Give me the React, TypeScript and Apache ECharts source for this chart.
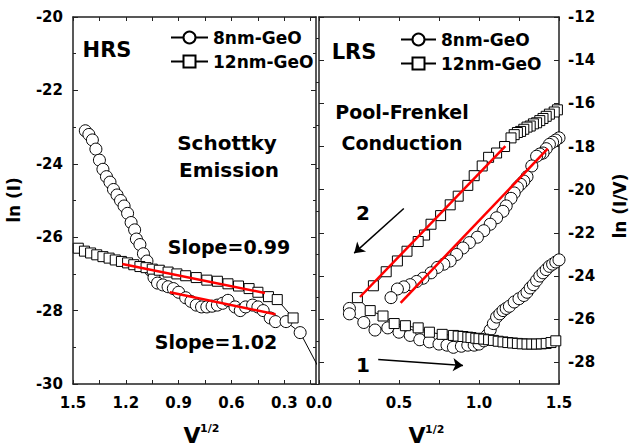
import React, { useEffect, useRef } from "react";
import * as echarts from "echarts";

const FONT = '"DejaVu Sans", sans-serif';

// HRS panel (x axis reversed)
const hrs8nm: [number, number][] = [
  [1.43, -23.1], [1.41, -23.2], [1.39, -23.35], [1.37, -23.6], [1.35, -23.9], [1.33, -24.15],
  [1.31, -24.35], [1.29, -24.5], [1.27, -24.7], [1.25, -24.85], [1.23, -25.0], [1.21, -25.15],
  [1.19, -25.35], [1.17, -25.6], [1.15, -25.8], [1.14, -26.05], [1.12, -26.2], [1.1, -26.45],
  [1.08, -26.65], [1.06, -26.9], [1.04, -27.1], [1.02, -27.25], [0.99, -27.3], [0.96, -27.35],
  [0.93, -27.4], [0.9, -27.5], [0.86, -27.65], [0.83, -27.75], [0.8, -27.85], [0.77, -27.9],
  [0.74, -27.9], [0.71, -27.88], [0.68, -27.85], [0.65, -27.8], [0.62, -27.72], [0.58, -27.9],
  [0.55, -28.0], [0.52, -27.9], [0.48, -27.85], [0.45, -27.9], [0.42, -28.0], [0.38, -28.2],
  [0.35, -28.3], [0.29, -28.3], [0.21, -28.6], [0.1, -29.6],
];
const hrs12nm: [number, number][] = [
  [1.47, -26.3], [1.435, -26.38], [1.4, -26.43], [1.365, -26.48], [1.33, -26.53], [1.295, -26.57],
  [1.26, -26.62], [1.225, -26.66], [1.19, -26.7], [1.155, -26.75], [1.12, -26.8], [1.085, -26.83],
  [1.05, -26.87], [1.01, -26.9], [0.96, -26.95], [0.91, -27.0], [0.86, -27.05], [0.8, -27.1],
  [0.74, -27.17], [0.68, -27.2], [0.62, -27.27], [0.56, -27.33], [0.5, -27.4], [0.45, -27.5],
  [0.39, -27.62], [0.34, -27.7], [0.25, -28.2],
];

// LRS panel
const lrs8nm: [number, number][] = [
  [0.19, -25.5], [0.19, -25.75], [0.28, -26.15], [0.35, -26.5], [0.43, -26.4], [0.5, -26.6],
  [0.57, -26.75], [0.63, -26.95], [0.69, -27.05], [0.75, -27.15], [0.8, -27.2], [0.84, -27.3],
  [0.89, -27.25], [0.93, -27.2], [0.97, -27.2], [1.0, -27.15], [1.03, -27.0], [1.05, -26.75],
  [1.07, -26.5], [1.09, -26.2], [1.11, -25.9], [1.13, -25.75], [1.15, -25.6], [1.17, -25.5],
  [1.19, -25.4], [1.22, -25.2], [1.25, -25.05], [1.28, -24.9], [1.3, -24.75], [1.32, -24.55],
  [1.34, -24.4], [1.36, -24.2], [1.38, -24.0], [1.4, -23.85], [1.42, -23.7], [1.44, -23.55],
  [1.46, -23.45], [1.48, -23.35], [1.5, -23.25], [1.6, -22.8],
  [1.6, -17.2], [1.5, -17.6], [1.48, -17.7], [1.46, -17.8], [1.44, -17.9], [1.42, -18.1],
  [1.4, -18.3], [1.38, -18.35], [1.36, -18.45], [1.33, -18.9], [1.3, -19.4], [1.28, -19.6],
  [1.26, -19.75], [1.24, -19.9], [1.22, -20.15], [1.2, -20.4], [1.17, -20.75], [1.15, -21.0],
  [1.11, -21.3], [1.07, -21.6], [1.03, -21.9], [0.99, -22.2], [0.94, -22.45], [0.9, -22.7],
  [0.86, -23.0], [0.82, -23.3], [0.78, -23.45], [0.74, -23.6], [0.7, -23.85], [0.65, -24.1],
  [0.61, -24.25], [0.57, -24.4], [0.53, -24.5], [0.49, -24.6], [0.45, -25.0],
];
const lrs12nm: [number, number][] = [
  [1.6, -16.0], [1.49, -16.3], [1.47, -16.4], [1.44, -16.5], [1.42, -16.6], [1.4, -16.7],
  [1.38, -16.8], [1.36, -16.9], [1.34, -16.95], [1.32, -17.05], [1.3, -17.1], [1.28, -17.2],
  [1.26, -17.3], [1.24, -17.35], [1.22, -17.45], [1.2, -17.6], [1.16, -18.0], [1.11, -18.3],
  [1.06, -18.5], [1.02, -18.9], [0.97, -19.35], [0.93, -19.8], [0.87, -20.3], [0.82, -20.7],
  [0.76, -21.2], [0.7, -21.6], [0.66, -22.1], [0.62, -22.4], [0.55, -22.85], [0.49, -23.3],
  [0.42, -23.8], [0.34, -24.45], [0.24, -25.0],
  [0.32, -25.6], [0.4, -25.85], [0.47, -26.2], [0.54, -26.3], [0.62, -26.4], [0.69, -26.6],
  [0.77, -26.7], [0.84, -26.75], [0.87, -26.78], [0.9, -26.8], [0.93, -26.83], [0.95, -26.85],
  [0.98, -26.88], [1.0, -26.9], [1.03, -26.92], [1.06, -26.95], [1.09, -26.98], [1.12, -27.02],
  [1.15, -27.05], [1.18, -27.08], [1.21, -27.1], [1.24, -27.12], [1.27, -27.14], [1.3, -27.15],
  [1.33, -27.15], [1.36, -27.15], [1.39, -27.14], [1.42, -27.12], [1.45, -27.08], [1.48, -27.0],
  [1.6, -26.7],
];

// linear fits (red)
const fitHrs8: [number, number][] = [[0.95, -27.5], [0.35, -28.1]];
const fitHrs12: [number, number][] = [[1.22, -26.73], [0.41, -27.52]];
const fitLrs8: [number, number][] = [[0.51, -25.24], [1.43, -18.1]];
const fitLrs12: [number, number][] = [[0.256, -24.97], [1.165, -17.98]];

// sweep direction arrows (LRS)
const arrowSweep2: [number, number][] = [[0.53, -20.87], [0.22, -22.94]];
const arrowSweep1: [number, number][] = [[0.37, -27.86], [0.9, -28.14]];

// tick values
const hrsXLabels = [1.5, 1.2, 0.9, 0.6, 0.3];
const hrsXTicks = [1.5, 1.35, 1.2, 1.05, 0.9, 0.75, 0.6, 0.45, 0.3, 0.15];
const lrsXLabels = [0, 0.5, 1.0, 1.5];
const lrsXTicks = [0, 0.25, 0.5, 0.75, 1.0, 1.25, 1.5];
const lrsYLabels = [-28, -26, -24, -22, -20, -18, -16, -14, -12];
const lrsYMinor = [-29, -27, -25, -23, -21, -19, -17, -15, -13];

const AX = "#222";
const tickFont = { fontFamily: FONT, fontWeight: "bold" as const, fontSize: 15, color: "#000" };

function axisBase(extra: any) {
  return {
    type: "value",
    axisLine: { show: true, onZero: false, lineStyle: { color: AX, width: 1.5 } },
    splitLine: { show: false },
    ...extra,
  };
}

export default function App() {
  const ref = useRef<HTMLDivElement>(null);
  useEffect(() => {
    if (!ref.current) return;
    const chart = echarts.init(ref.current, null, { renderer: "svg" });
    const symStyle = { color: "#fff", borderColor: "#000", borderWidth: 1 };
    const lineSt = { color: "#000", width: 1 };
    const fit = (data: [number, number][], xi: number, yi: number) => ({
      type: "line",
      name: "fit",
      xAxisIndex: xi,
      yAxisIndex: yi,
      data,
      symbol: "none",
      lineStyle: { color: "#ff0000", width: 2.5 },
      z: 10,
      silent: true,
    });
    const txt = (text: string, x: number, y: number, size: number, extra: any = {}) => ({
      type: "text",
      x,
      y,
      z: 100,
      ...extra,
      style: {
        text,
        fill: "#000",
        font: `bold ${size}px ${FONT}`,
        textAlign: extra.align || "center",
        textVerticalAlign: "middle",
      },
    });
    const legendCommon = {
      orient: "vertical",
      data: ["8nm-GeO", "12nm-GeO"],
      itemWidth: 37,
      itemHeight: 15,
      itemGap: 7,
      padding: 0,
      selectedMode: false,
      textStyle: { fontFamily: FONT, fontWeight: "bold", fontSize: 17, color: "#000" },
    };
    chart.setOption({
      animation: false,
      backgroundColor: "#fff",
      grid: [
        { left: 73, top: 17, width: 243, height: 367 },
        { left: 319, top: 17, width: 240, height: 367 },
      ],
      legend: [
        { ...legendCommon, left: 170, top: 29 },
        { ...legendCommon, left: 400, top: 31, itemWidth: 35 },
      ],
      xAxis: [
        axisBase({
          gridIndex: 0, position: "bottom", min: 0.12, max: 1.5, inverse: true,
          axisTick: { show: true, inside: true, length: 4, customValues: hrsXTicks, lineStyle: { color: AX } },
          axisLabel: { ...tickFont, margin: 11, customValues: hrsXLabels, formatter: (v: number) => v.toFixed(1) },
        }),
        axisBase({
          gridIndex: 0, position: "top", min: 0.12, max: 1.5, inverse: true,
          axisTick: { show: true, inside: true, length: 4, customValues: hrsXTicks, lineStyle: { color: AX } },
          axisLabel: { show: false },
        }),
        axisBase({
          gridIndex: 1, position: "bottom", min: 0, max: 1.5,
          axisTick: { show: true, inside: true, length: 4, customValues: lrsXTicks, lineStyle: { color: AX } },
          axisLabel: { ...tickFont, margin: 11, customValues: lrsXLabels, formatter: (v: number) => v.toFixed(1) },
        }),
        axisBase({
          gridIndex: 1, position: "top", min: 0, max: 1.5,
          axisTick: { show: true, inside: true, length: 4, customValues: lrsXTicks, lineStyle: { color: AX } },
          axisLabel: { show: false },
        }),
      ],
      yAxis: [
        axisBase({
          gridIndex: 0, position: "left", min: -30, max: -20, interval: 2,
          axisTick: { show: true, inside: true, length: 5, lineStyle: { color: AX } },
          minorTick: { show: true, splitNumber: 2, length: 3, lineStyle: { color: AX } },
          axisLabel: { ...tickFont, margin: 10 },
        }),
        axisBase({
          gridIndex: 0, position: "right", min: -30, max: -20, interval: 2,
          axisTick: { show: true, inside: true, length: 5, lineStyle: { color: AX } },
          minorTick: { show: true, splitNumber: 2, length: 3, lineStyle: { color: AX } },
          axisLabel: { show: false },
        }),
        axisBase({
          gridIndex: 1, position: "right", min: -29, max: -12,
          axisTick: { show: true, inside: true, length: 5, customValues: lrsYLabels, lineStyle: { color: AX } },
          axisLabel: { ...tickFont, margin: 9, customValues: lrsYLabels },
        }),
        {
          type: "value", gridIndex: 1, position: "right", min: -29, max: -12,
          axisLine: { show: false }, splitLine: { show: false },
          axisTick: { show: true, inside: true, length: 3, customValues: lrsYMinor, lineStyle: { color: AX } },
          axisLabel: { show: false },
        },
        axisBase({
          gridIndex: 1, position: "left", min: -29, max: -12,
          axisTick: { show: true, inside: true, length: 5, customValues: lrsYLabels, lineStyle: { color: AX } },
          axisLabel: { show: false },
        }),
      ],
      series: [
        {
          type: "line", name: "8nm-GeO", xAxisIndex: 0, yAxisIndex: 0, data: hrs8nm,
          symbol: "circle", symbolSize: 12, itemStyle: symStyle, lineStyle: lineSt,
        },
        {
          type: "line", name: "12nm-GeO", xAxisIndex: 0, yAxisIndex: 0, data: hrs12nm,
          symbol: "rect", symbolSize: 10, itemStyle: symStyle, lineStyle: lineSt,
        },
        {
          type: "line", name: "8nm-GeO", xAxisIndex: 2, yAxisIndex: 2, data: lrs8nm,
          symbol: "circle", symbolSize: 12, itemStyle: symStyle, lineStyle: lineSt,
        },
        {
          type: "line", name: "12nm-GeO", xAxisIndex: 2, yAxisIndex: 2, data: lrs12nm,
          symbol: "rect", symbolSize: 10, itemStyle: symStyle, lineStyle: lineSt,
          markLine: {
            silent: true,
            symbol: ["none", "arrow"],
            symbolSize: 10,
            label: { show: false },
            lineStyle: { color: "#000", width: 1.5, type: "solid" },
            emphasis: { disabled: true },
            data: [
              [{ coord: arrowSweep2[0] }, { coord: arrowSweep2[1] }],
              [{ coord: arrowSweep1[0] }, { coord: arrowSweep1[1] }],
            ],
          },
        },
        fit(fitHrs12, 0, 0),
        fit(fitHrs8, 0, 0),
        fit(fitLrs12, 2, 2),
        fit(fitLrs8, 2, 2),
      ],
      graphic: [
        txt("HRS", 107, 50, 21),
        txt("LRS", 354, 52, 21),
        txt("Schottky", 227, 143, 20),
        txt("Emission", 229, 170, 20),
        txt("Slope=0.99", 229, 247, 19),
        txt("Slope=1.02", 216, 342, 19),
        txt("Pool-Frenkel", 402, 112, 19),
        txt("Conduction", 402, 143, 19),
        txt("2", 363, 213, 20),
        txt("1", 363, 365, 20),
        txt("ln (I)", 14, 200, 17, { rotation: Math.PI / 2 }),
        txt("ln (I/V)", 620, 206, 17, { rotation: Math.PI / 2 }),
        txt("V", 192, 435, 22),
        txt("1/2", 200, 428, 11, { align: "left" }),
        txt("V", 417, 435, 22),
        txt("1/2", 425, 429, 11, { align: "left" }),
      ],
    });
    return () => chart.dispose();
  }, []);
  return (
    <div
      ref={ref}
      style={{ position: "fixed", left: 0, top: 0, width: 629, height: 446, background: "#fff" }}
    />
  );
}
